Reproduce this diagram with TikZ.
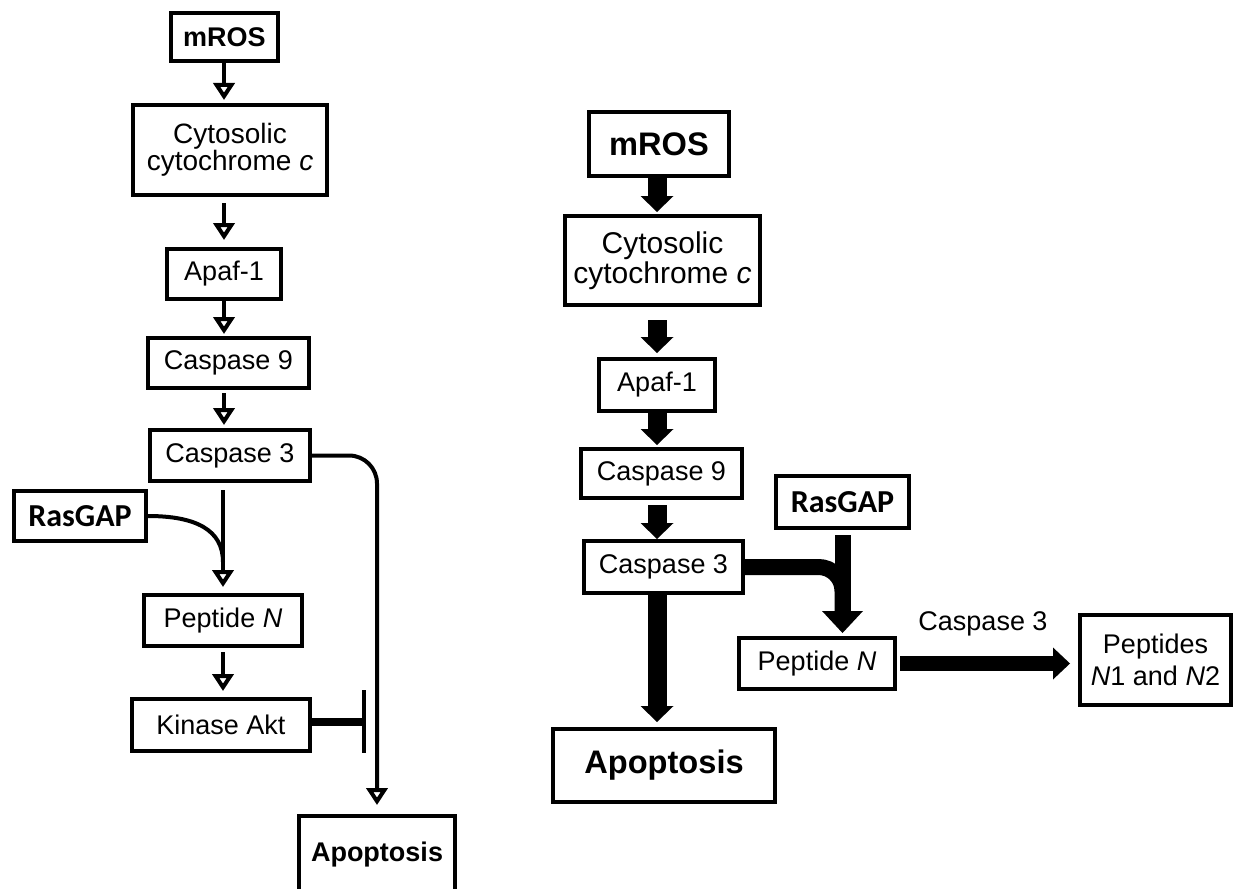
\documentclass[tikz,border=0pt]{standalone}
\usepackage{fontspec}
\setmainfont{Liberation Sans}
\newfontfamily\rasfont{Carlito}
\usepackage{tikz}
\usetikzlibrary{arrows.meta}

\tikzset{
  box/.style={draw, line width=2pt, align=center, inner sep=0pt, font=\fontsize{13.5}{14}\selectfont},
  boldbox/.style={box, font=\fontsize{13.5}{14}\selectfont\bfseries},
  rasbox/.style={box, font=\rasfont\fontsize{16}{16}\selectfont\bfseries},
  thinarrow/.style={line width=2pt, -{Triangle[open, width=10.5pt, length=8.5pt]}},
  fatarrow/.style={line width=9.5pt, -{Triangle[width=16.5pt, length=8pt, line width=0pt]}},
}

\begin{document}
\begin{tikzpicture}[x=0.5pt, y=-0.5pt]
        \useasboundingbox (0,0) rectangle (1235,888);
        \clip (0,0) rectangle (1235,888);

        % 左图: 节点
        \node[boldbox, minimum width=53.5pt, minimum height=24pt] (mROSL) at (224.5,37) {mROS};
        \node[box, minimum width=97pt, minimum height=45pt, font=\fontsize{14}{13.5}\selectfont] (cytoL) at (230,150) {Cytosolic\\cytochrome \textit{c}};
        \node[box, minimum width=57pt, minimum height=25pt] (apafL) at (224,274) {Apaf-1};
        \node[box, minimum width=80.5pt, minimum height=25pt] (casp9L) at (228.5,363) {Caspase 9};
        \node[box, minimum width=80pt, minimum height=25.5pt] (casp3L) at (230,455.5) {Caspase 3};
        \node[rasbox, minimum width=66pt, minimum height=25pt] (rasL) at (80,516) {RasGAP};
        \node[box, minimum width=79pt, minimum height=25.5pt] (pepL) at (223,620.5) {Peptide \textit{N}};
        \node[box, minimum width=89pt, minimum height=26pt] (aktL) at (221,725) {Kinase Akt};
        \node[boldbox, minimum width=78pt, minimum height=38.5pt] (apoL) at (377,854.5) {Apoptosis};

        % 左图: 箭头
        \draw[thinarrow, shorten >=1.5pt] (apafL.north |- mROSL.south) -- (apafL.north |- cytoL.north);
        \draw[thinarrow, shorten <=3pt, shorten >=3.5pt] (apafL.north |- cytoL.south) -- (apafL.north);
        \draw[thinarrow, shorten >=1pt] (apafL.south) -- (apafL.south |- casp9L.north);
        \draw[thinarrow, shorten <=1.5pt, shorten >=1.5pt] (apafL.south |- casp9L.south) -- (apafL.south |- casp3L.north);
        \draw[thinarrow, shorten <=3.5pt, shorten >=3pt] (pepL.north |- casp3L.south) -- (pepL.north);
        \draw[thinarrow, shorten <=2pt, shorten >=3pt] (pepL.south) -- (pepL.south |- aktL.north);

        % RasGAP 汇入
        \coordinate (mergeL) at (pepL.north |- 0,562);
        \draw[line width=2pt] (rasL.east) .. controls +(48,0) and +(0,-32) .. (mergeL);

        % Caspase 3 到 Apoptosis
        \draw[thinarrow, rounded corners=14pt, shorten >=4.5pt] (casp3L.east) -| (apoL.north);

        % 抑制
        \coordinate (aktbar) at (364,722);
        \draw[line width=4pt] (aktL.east |- aktbar) -- (aktbar);
        \draw[line width=2pt] (aktbar) ++(0,-32) -- ++(0,63);

        % 右图: 节点
        \node[boldbox, minimum width=70pt, minimum height=32pt, font=\fontsize{16.3}{17}\selectfont\bfseries] (mROSR) at (659,144) {mROS};
        \node[box, minimum width=97.5pt, minimum height=44.5pt, font=\fontsize{15}{13}\selectfont] (cytoR) at (662.5,260.5) {Cytosolic\\cytochrome \textit{c}};
        \node[box, minimum width=58pt, minimum height=26pt] (apafR) at (657,385) {Apaf-1};
        \node[box, minimum width=80.5pt, minimum height=24.5pt] (casp9R) at (661.5,473.5) {Caspase 9};
        \node[box, minimum width=79.5pt, minimum height=26pt] (casp3R) at (663.5,567) {Caspase 3};
        \node[rasbox, minimum width=66.5pt, minimum height=26pt] (rasR) at (842.5,502) {RasGAP};
        \node[box, minimum width=78pt, minimum height=25.5pt] (pepR) at (817,663.5) {Peptide \textit{N}};
        \node[boldbox, minimum width=111pt, minimum height=36.5pt, font=\fontsize{16.3}{17}\selectfont\bfseries] (apoR) at (664,765.5) {Apoptosis};
        \node[box, minimum width=75.5pt, minimum height=45pt, font=\fontsize{13.5}{16}\selectfont] (pepsR) at (1155.5,660) {Peptides\\\textit{N}1 and \textit{N}2};

        % 右图: 粗箭头
        \draw[fatarrow, shorten >=1pt] (apafR.north |- mROSR.south) -- (apafR.north |- cytoR.north);
        \draw[fatarrow, shorten <=6.5pt, shorten >=2pt] (apafR.north |- cytoR.south) -- (apafR.north);
        \draw[fatarrow, shorten >=1pt] (apafR.south) -- (apafR.south |- casp9R.north);
        \draw[fatarrow, shorten <=2.5pt] (apafR.south |- casp9R.south) -- (apafR.south |- casp3R.north);
        \draw[fatarrow, shorten >=2.5pt] (apafR.south |- casp3R.south) -- (apafR.south |- apoR.north);

        % Caspase 3 + RasGAP
        \coordinate (mergeR) at (rasR.south |- pepR.north);
        \draw[line width=8pt, rounded corners=12pt, shorten >=12pt] (casp3R.east) -| (mergeR);
        \draw[line width=8pt, -{Triangle[width=20.5pt, length=11pt, line width=0pt]}, shorten <=2.5pt, shorten >=1.5pt] (rasR.south) -- (mergeR);

        % 切割
        \draw[line width=7.5pt, -{Triangle[width=16pt, length=8.5pt, line width=0pt]}, shorten <=1.5pt, shorten >=4pt] (pepR.east) -- (pepR.east -| pepsR.west);
        \node[font=\fontsize{13.5}{14}\selectfont] (c3lbl) at (983,624) {Caspase 3};
\end{tikzpicture}
\end{document}
